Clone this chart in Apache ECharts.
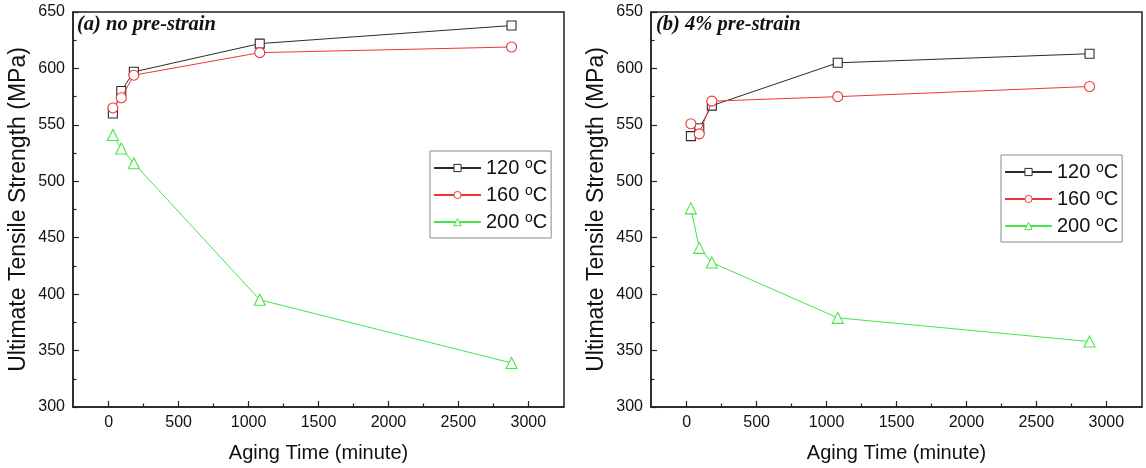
<!DOCTYPE html>
<html>
<head>
<meta charset="utf-8">
<script src="https://cdn.jsdelivr.net/npm/echarts@6/dist/echarts.min.js"></script>
<style>
html,body{margin:0;padding:0;background:#fff;}
#chart{width:1146px;height:468px;}
</style>
</head>
<body>
<div id="chart"></div>
<script>
// ---- data ----
const times = [30, 90, 180, 1080, 2880];
const a120 = [560, 580, 597, 622, 638];
const a160 = [565, 574, 594, 614, 619];
const a200 = [541, 529, 516, 395, 339];
const b120 = [540, 547, 567, 605, 613];
const b160 = [551, 542, 571, 575, 584];
const b200 = [476, 441, 428, 379, 358];
const seriesNames = ['120 oC', '160 oC', '200 oC'];
const panelTitles = ['(a) no pre-strain', '(b) 4% pre-strain'];
const xTickValues = [0, 500, 1000, 1500, 2000, 2500, 3000];
const xMinorValues = [250, 750, 1250, 1750, 2250, 2750];
const xTitle = 'Aging Time (minute)';
const yTitle = 'Ultimate Tensile Strength (MPa)';

const colors = ['#2b2b2b', '#f03434', '#45e645'];
const symbols = ['rect', 'circle', 'triangle'];
const symSizes = [9, 10, 11];
const FONT = 'Liberation Sans';

const chart = echarts.init(document.getElementById('chart'), null, {renderer: 'canvas'});

const grids = [
  {left: 73, top: 12, width: 491, height: 395},
  {left: 651, top: 12, width: 491, height: 395}
];

function xMain(gi) {
  return {
    type: 'value', gridIndex: gi, position: 'bottom', min: -255, max: 3255,
    axisLine: {show: true, onZero: false, lineStyle: {color: '#222', width: 1.5}},
    axisTick: {show: true, inside: true, length: 6, customValues: xTickValues, lineStyle: {color: '#222', width: 1.2}},
    axisLabel: {show: true, customValues: xTickValues, fontSize: 16, fontFamily: FONT, color: '#111', margin: 8,
                formatter: v => String(v)},
    splitLine: {show: false},
    name: xTitle, nameLocation: 'middle', nameGap: 36,
    nameTextStyle: {fontSize: 20, fontFamily: FONT, color: '#111'}
  };
}
function xMinor(gi) {
  return {
    type: 'value', gridIndex: gi, position: 'bottom', offset: 0, min: -255, max: 3255,
    axisLine: {show: false},
    axisTick: {show: true, inside: true, length: 3.5, customValues: xMinorValues, lineStyle: {color: '#222', width: 1.2}},
    axisLabel: {show: false},
    splitLine: {show: false}
  };
}
function yAx(gi) {
  return {
    type: 'value', gridIndex: gi, min: 300, max: 650, interval: 50,
    axisLine: {show: true, onZero: false, lineStyle: {color: '#222', width: 1.5}},
    axisTick: {show: true, inside: true, length: 6, lineStyle: {color: '#222', width: 1.2}},
    minorTick: {show: true, splitNumber: 2, length: 3.5, lineStyle: {color: '#222', width: 1.2}},
    axisLabel: {fontSize: 16, fontFamily: FONT, color: '#111', margin: 8},
    splitLine: {show: false},
    minorSplitLine: {show: false},
    name: yTitle, nameLocation: 'middle', nameGap: 43,
    nameTextStyle: {fontSize: 23, fontFamily: FONT, color: '#111'}
  };
}

function pairs(ys) { return times.map((t, i) => [t, ys[i]]); }

const panelData = [[a120, a160, a200], [b120, b160, b200]];
const series = [];
panelData.forEach((set, p) => {
  set.forEach((ys, k) => {
    series.push({
      type: 'line', name: seriesNames[k],
      xAxisIndex: p * 2, yAxisIndex: p,
      data: pairs(ys),
      symbol: symbols[k], symbolSize: symSizes[k], showAllSymbol: true,
      lineStyle: {color: colors[k], width: 1},
      itemStyle: {color: '#fff', borderColor: colors[k], borderWidth: 1.1},
      emphasis: {disabled: true},
      z: 3 + k
    });
  });
});

function legendFmt(name) {
  const num = name.split(' ')[0];
  return num + ' {sup|o}C';
}
function legend(left, top) {
  return {
    orient: 'vertical', left: left, top: top,
    data: seriesNames,
    itemWidth: 47, itemHeight: 9, itemGap: 5,
    padding: [6, 4, 5, 3],
    borderColor: '#8a8a8a', borderWidth: 1, backgroundColor: '#fff',
    formatter: legendFmt,
    selectedMode: false,
    itemStyle: {borderWidth: 1},
    textStyle: {
      fontSize: 20, fontFamily: FONT, color: '#111', lineHeight: 22,
      rich: {sup: {fontSize: 14, fontFamily: FONT, color: '#111', verticalAlign: 'top', lineHeight: 11}}
    }
  };
}

const titleStyle = {fontFamily: 'Liberation Serif', fontStyle: 'italic', fontWeight: 'bold', fontSize: 20.5, color: '#111'};
const option = {
  animation: false,
  backgroundColor: '#fff',
  title: [
    {text: panelTitles[0], left: 77, top: 15, padding: 0, textStyle: titleStyle},
    {text: panelTitles[1], left: 656, top: 15, padding: 0, textStyle: titleStyle}
  ],
  grid: grids.map(g => Object.assign({show: true, borderColor: '#222', borderWidth: 1.5, backgroundColor: 'transparent'}, g)),
  xAxis: [xMain(0), xMinor(0), xMain(1), xMinor(1)],
  yAxis: [yAx(0), yAx(1)],
  legend: [legend(430, 151), legend(1001, 155)],
  series: series
};
chart.setOption(option);
</script>
</body>
</html>
